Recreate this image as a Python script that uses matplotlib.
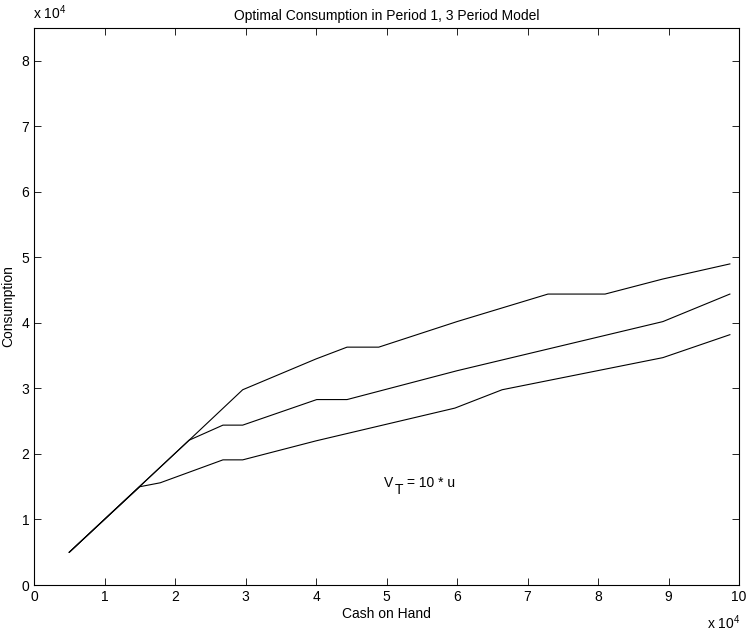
import matplotlib
matplotlib.use("Agg")
import matplotlib.pyplot as plt

plt.rcParams['font.family'] = ['Liberation Sans', 'DejaVu Sans']
plt.rcParams['mathtext.fontset'] = 'custom'
plt.rcParams['mathtext.rm'] = 'Liberation Sans'

# cash on hand (x 10^4) and consumption (x 10^4) for the three value settings
x_low = [0.5, 1.5, 1.79, 2.68, 2.96, 4.0, 5.97, 6.64, 8.92, 9.87]
c_low = [0.5, 1.5, 1.56, 1.91, 1.91, 2.2, 2.70, 2.98, 3.47, 3.82]

x_mid = [0.5, 2.2, 2.68, 2.96, 4.01, 4.44, 6.0, 8.92, 9.87]
c_mid = [0.5, 2.21, 2.44, 2.44, 2.83, 2.83, 3.27, 4.02, 4.44]

x_high = [0.5, 2.2, 2.96, 4.0, 4.44, 4.89, 6.0, 7.29, 8.10, 8.92, 9.87]
c_high = [0.5, 2.21, 2.98, 3.45, 3.63, 3.63, 4.02, 4.44, 4.44, 4.67, 4.90]

xticks = list(range(0, 11))
yticks = list(range(0, 9))

fig = plt.figure(figsize=(7.49, 6.35), dpi=100)
ax = fig.add_axes([0.0454, 0.0787, 0.9413, 0.8772])

for xs, cs in [(x_low, c_low), (x_mid, c_mid), (x_high, c_high)]:
    ax.plot(xs, cs, color='black', lw=0.8)

ax.set_xlim(0, 10)
ax.set_ylim(0, 8.5)
ax.set_xticks(xticks)
ax.set_yticks(yticks)
ax.tick_params(direction='in', top=True, right=True, labelsize=10, length=5, width=0.6)
for s in ax.spines.values():
    s.set_linewidth(0.8)

ax.set_title('Optimal Consumption in Period 1, 3 Period Model', fontsize=10, pad=6)
ax.set_xlabel('Cash on Hand', fontsize=10, labelpad=2)
ax.set_ylabel('Consumption', fontsize=10, labelpad=4)

# V_T label: subscript drawn a bit lower, as in the original
ax.text(4.97, 1.55, 'V', fontsize=10, ha='left', va='center')
ax.text(5.11, 1.45, 'T', fontsize=10, ha='left', va='center')
ax.text(5.29, 1.55, '= 10 * u', fontsize=10, ha='left', va='center')

fig.text(0.044, 0.966, r'x 10$^{4}$', fontsize=10, ha='left', va='bottom')
fig.text(0.988, 0.004, r'x 10$^{4}$', fontsize=10, ha='right', va='bottom')

fig.savefig('out.png', dpi=100)
